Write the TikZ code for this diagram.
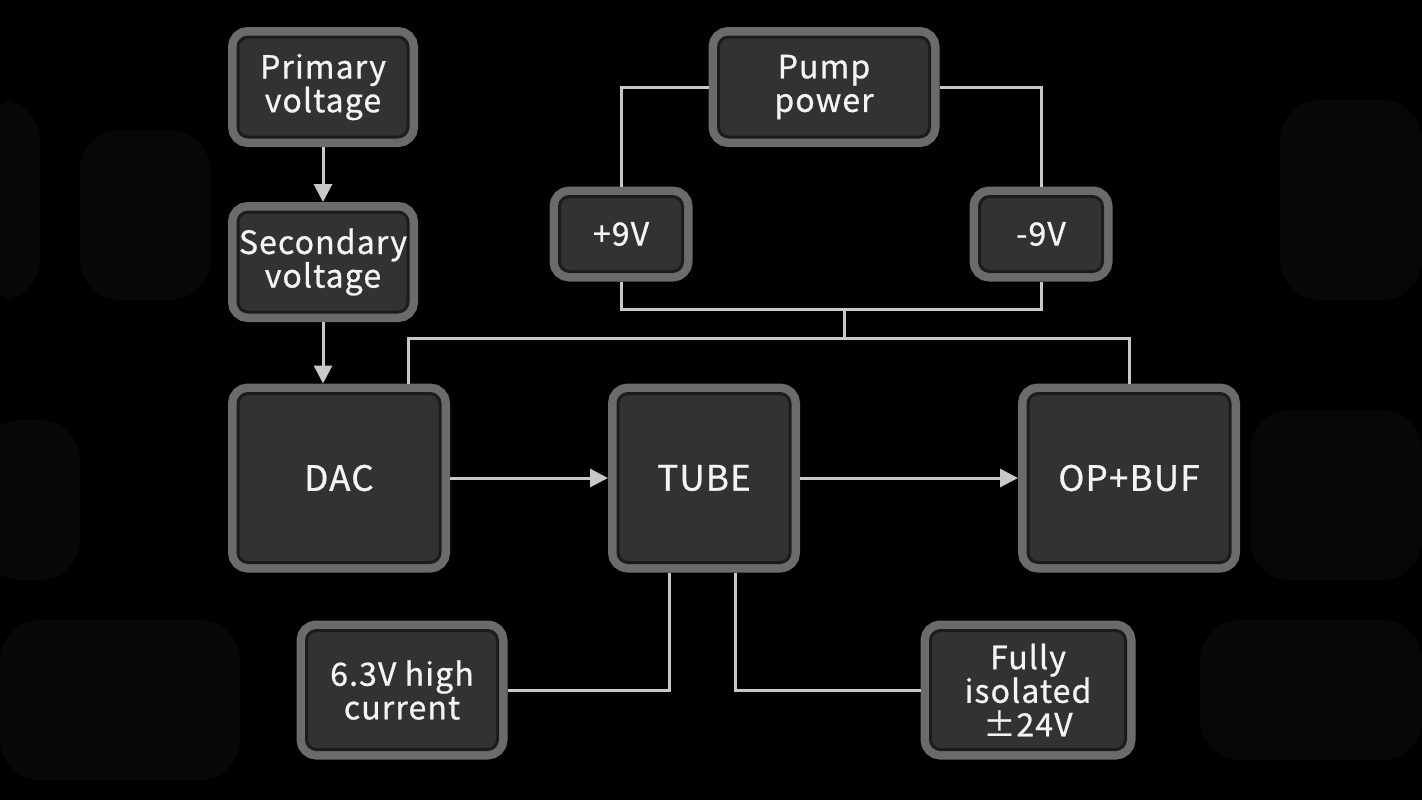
\documentclass[tikz,border=0pt]{standalone}
\usepackage{fontspec}
\newfontfamily\lbl[LetterSpace=3.5, FakeBold=0.8]{Noto Sans CJK SC}
\usetikzlibrary{arrows.meta}
\definecolor{frameC}{HTML}{6B6B6B}
\definecolor{innerC}{HTML}{323232}
\definecolor{lineC}{HTML}{1C1C1C}
\definecolor{connC}{HTML}{C8C8C8}
\definecolor{textC}{HTML}{F4F4F4}
\definecolor{bgB}{HTML}{070707}
\begin{document}
\begin{tikzpicture}[x=0.5pt,y=-0.5pt,
  blk/.style={fill=innerC, draw=lineC, line width=1.5pt, rounded corners=5pt,
    preaction={draw=frameC, line width=10pt}, outer sep=5pt, inner sep=0pt,
    text=textC, align=center, font=\lbl\fontsize{16}{16.8}\selectfont},
  big/.style={blk, font=\lbl\fontsize{17.5}{18}\selectfont},
  conn/.style={draw=connC, line width=1.5pt},
  arr/.style={conn, -{Triangle[length=9pt,width=9pt]}},
  bgblob/.style={rounded corners=20pt}]
% background
\fill[black] (0,0) rectangle (1422,800);
\useasboundingbox (0,0) rectangle (1422,800);
\fill[bgB, bgblob] (80,130) rectangle (210,300);
\fill[bgB, bgblob] (1280,100) rectangle (1422,300);
\fill[bgB, bgblob] (-20,420) rectangle (80,580);
\fill[bgB, bgblob] (1250,410) rectangle (1422,580);
\fill[bgB, bgblob] (-20,100) rectangle (40,300);
\fill[bgB, bgblob] (1200,620) rectangle (1422,760);
\fill[bgB, bgblob] (0,620) rectangle (240,780);
% nodes
\node[blk, minimum width=85pt, minimum height=50pt] (pv) at (323,87) {Primary\\voltage};
\node[blk, minimum width=85pt, minimum height=50pt] (sv) at (323,262) {Secondary\\voltage};
\node[blk, minimum width=105.5pt, minimum height=50pt] (pp) at (824,87) {Pump\\power};
\node[blk, minimum width=61.5pt, minimum height=37.5pt] (p9) at (621,234) {+9V};
\node[blk, minimum width=61.5pt, minimum height=37.5pt] (m9) at (1041,234) {-9V};
\node[big, minimum width=101pt, minimum height=84.5pt] (dac) at (339,478) {DAC};
\node[big, minimum width=86pt, minimum height=84.5pt] (tube) at (704,478) {TUBE};
\node[big, minimum width=101pt, minimum height=84.5pt] (op) at (1129,478) {OP+BUF};
\node[blk, minimum width=95.5pt, minimum height=59.5pt] (lo) at (402,690) {6.3V high\\current};
\node[blk, minimum width=97.5pt, minimum height=59.5pt] (fi) at (1028,690) {Fully\\isolated\\±24V};
% helper coordinates
\coordinate (j1) at (844,309);
\coordinate (j2) at (844,338);
\coordinate (dacin) at (408,338);
% connectors
\draw[arr] (pv) -- (sv);
\draw[arr] (sv) -- (sv |- dac.north);
\draw[conn] (pp.west) -| (p9.north);
\draw[conn] (pp.east) -| (m9.north);
\draw[conn] (p9.south) -- (p9.south |- j1) -| (m9.south);
\draw[conn] (j1) -- (j2);
\draw[conn] (dac.north -| dacin) -- (dacin) -| (op.north);
\draw[arr] (dac.east) -- (tube.west);
\draw[arr] (tube.east) -- (op.west);
\draw[conn] ([xshift=-17.5pt]tube.south) |- (lo.east);
\draw[conn] ([xshift=15.5pt]tube.south) |- (fi.west);
\end{tikzpicture}
\end{document}
